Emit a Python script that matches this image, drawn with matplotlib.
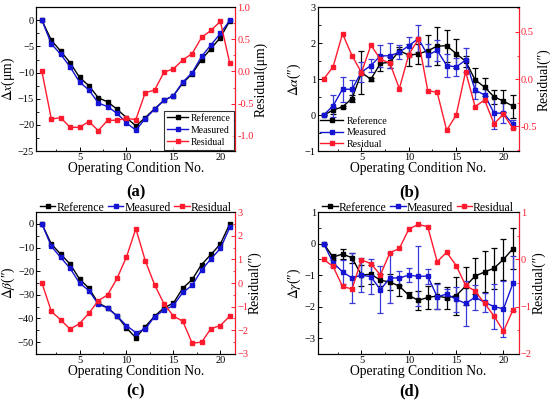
import matplotlib
matplotlib.use("Agg")
import matplotlib.pyplot as plt
from matplotlib.ticker import MultipleLocator, FormatStrFormatter

plt.rcParams['font.family'] = ['Liberation Serif', 'DejaVu Serif']
plt.rcParams['mathtext.fontset'] = 'stix'
plt.rcParams['xtick.direction'] = 'in'
plt.rcParams['ytick.direction'] = 'in'

cond = list(range(1, 22))

# (a) delta x, um
ref_x = [0, -3.8, -5.9, -8.1, -10.9, -12.5, -14.8, -15.6, -17.0, -18.6, -20.2,
         -18.6, -16.9, -15.3, -14.4, -12.0, -10.2, -7.5, -5.4, -3.3, -0.1]
mea_x = [0, -4.5, -6.5, -8.9, -11.8, -13.3, -15.8, -16.5, -17.8, -19.6, -21.0,
         -18.8, -17.0, -15.3, -14.4, -11.8, -10.0, -6.9, -4.7, -2.5, 0.0]
res_x = [0.0, -0.74, -0.72, -0.87, -0.87, -0.78, -0.92, -0.76, -0.76, -0.73, -0.75,
         -0.33, -0.29, -0.01, 0.04, 0.18, 0.28, 0.53, 0.64, 0.78, 0.13]

# (b) delta alpha
ref_a = [0, 0.14, 0.23, 0.46, 1.18, 1.0, 1.44, 1.47, 1.79, 1.67, 1.7,
         1.79, 1.92, 1.93, 1.71, 1.5, 0.98, 0.78, 0.51, 0.39, 0.25]
ref_a_err = [0, 0.1, 0.03, 0.1, 0.6, 0.04, 0.2, 0.16, 0.1, 0.3, 0.28,
             0.43, 0.52, 0.45, 0.4, 0.15, 0.34, 0.26, 0.2, 0.3, 0.32]
mea_a = [0, 0.26, 0.72, 0.72, 1.2, 1.38, 1.65, 1.65, 1.75, 1.93, 2.13,
         1.67, 1.8, 1.38, 1.34, 1.53, 0.7, 0.56, 0.06, 0.05, -0.25]
mea_a_err = [0, 0.3, 0.35, 0.26, 0.27, 0.17, 0.31, 0.35, 0.2, 0.25, 0.37,
             0.3, 0.3, 0.32, 0.24, 0.33, 0.25, 0.18, 0.45, 0.28, 0.12]
res_a = [0.0, 0.13, 0.48, 0.25, 0.07, 0.36, 0.21, 0.17, -0.1, 0.26, 0.42,
         -0.12, -0.14, -0.54, -0.38, 0.08, -0.29, -0.22, -0.47, -0.37, -0.52]

# (c) delta beta
ref_b = [0, -8.5, -12.8, -17.0, -23.3, -27.2, -33.5, -35.5, -39.0, -44.0, -48.2,
         -43.5, -39.0, -35.5, -33.5, -27.2, -23.5, -17.2, -12.9, -8.5, 0.0]
mea_b = [0, -9.5, -14.2, -18.8, -25.0, -28.2, -34.0, -35.6, -39.0, -43.0, -46.0,
         -44.5, -39.2, -36.5, -34.5, -29.0, -26.0, -19.5, -14.8, -10.4, -1.5]
res_b = [0.0, -1.2, -1.56, -1.95, -1.72, -1.28, -0.75, -0.5, 0.2, 1.1, 2.3,
         0.95, -0.08, -0.88, -1.4, -1.62, -2.55, -2.5, -1.93, -1.8, -1.4]

# (d) delta gamma
ref_g = [0, -0.43, -0.33, -0.45, -1.0, -0.97, -1.16, -1.22, -1.35, -1.64, -1.8,
         -1.71, -1.66, -1.72, -1.65, -1.35, -1.03, -0.9, -0.78, -0.5, -0.16]
ref_g_err = [0, 0.1, 0.15, 0.15, 0.33, 0.3, 0.18, 0.25, 0.3, 0.1, 0.3,
             0.35, 0.4, 0.35, 0.6, 0.6, 0.56, 0.65, 0.65, 0.66, 0.64]
mea_g = [0, -0.6, -0.9, -1.09, -1.0, -1.05, -1.46, -1.09, -1.09, -1.0, -1.04,
         -1.03, -1.69, -1.6, -1.77, -1.9, -1.7, -1.86, -2.0, -2.07, -1.26]
mea_g_err = [0, 0.13, 0.37, 0.8, 0.53, 0.55, 0.75, 0.8, 0.22, 0.22, 0.95,
             0.24, 0.4, 0.15, 0.4, 0.72, 0.4, 0.3, 0.72, 0.88, 0.88]
res_g = [0.0, -0.15, -0.57, -0.63, -0.01, -0.09, -0.33, 0.14, 0.23, 0.64, 0.74,
         0.69, -0.05, 0.15, -0.13, -0.55, -0.67, -0.93, -1.2, -1.52, -1.07]

BLACK = '#000000'
BLUE = '#1414d2'
RED = '#ff1a2e'
ms = 3.3
lw = 1.0

fig = plt.figure(figsize=(5.5, 4.04), dpi=100)

pos = {
    'a': [0.066, 0.626, 0.362, 0.356],
    'b': [0.578, 0.626, 0.365, 0.356],
    'c': [0.066, 0.124, 0.362, 0.351],
    'd': [0.578, 0.124, 0.365, 0.351],
}


def panel(key, ref, mea, res, ylab, rlab, ylim, rlim, ymaj, rmaj, ref_err=None, mea_err=None):
    ax = fig.add_axes(pos[key])
    if ref_err is None:
        l1, = ax.plot(cond, ref, color=BLACK, marker='s', ms=ms, lw=lw, label='Reference')
        l2, = ax.plot(cond, mea, color=BLUE, marker='s', ms=ms, lw=lw, label='Measured')
    else:
        ax.errorbar(cond, ref, yerr=ref_err, color=BLACK, marker='s', ms=ms, lw=lw,
                    elinewidth=0.9, capsize=2.5, capthick=0.9)
        ax.errorbar(cond, mea, yerr=mea_err, color=BLUE, marker='s', ms=ms, lw=lw,
                    elinewidth=0.9, capsize=2.5, capthick=0.9, ecolor='#3a3ad8')
        l1, = ax.plot([], [], color=BLACK, marker='s', ms=ms, lw=lw, label='Reference')
        l2, = ax.plot([], [], color=BLUE, marker='s', ms=ms, lw=lw, label='Measured')
    ax.set_xlim(0.4, 21.6)
    ax.set_ylim(*ylim)
    ax.xaxis.set_major_locator(MultipleLocator(5))
    ax.xaxis.set_minor_locator(MultipleLocator(2.5))
    ax.yaxis.set_major_locator(MultipleLocator(ymaj))
    ax.yaxis.set_minor_locator(MultipleLocator(ymaj / 2))
    ax.tick_params(labelsize=7.5, length=3, width=0.7, pad=1.5)
    ax.tick_params(which='minor', length=1.8, width=0.6)
    ax.set_xlabel('Operating Condition No.', fontsize=9.8, labelpad=0)
    ax.set_ylabel(ylab, fontsize=9.8, labelpad=1)

    ax2 = ax.twinx()
    l3, = ax2.plot(cond, res, color=RED, marker='s', ms=ms, lw=lw, label='Residual')
    ax2.set_ylim(*rlim)
    ax2.yaxis.set_major_locator(MultipleLocator(rmaj))
    ax2.yaxis.set_minor_locator(MultipleLocator(rmaj / 2))
    ax2.tick_params(axis='y', colors=RED, labelsize=7.5, length=3, width=0.7, pad=1.5)
    ax2.tick_params(axis='y', which='minor', colors=RED, length=1.8, width=0.6)
    ax2.spines['right'].set_color(RED)
    ax2.set_ylabel(rlab, fontsize=9.8, labelpad=0)
    return ax, ax2, [l1, l2, l3]


top_legend = dict(loc='lower center', bbox_to_anchor=(0.5, 0.99), ncol=3,
                  fontsize=8.5, frameon=False, borderaxespad=0.0, handlelength=1.3,
                  columnspacing=0.3, handletextpad=0.1, borderpad=0.0)

# (a)
ax, ax2, h = panel('a', ref_x, mea_x, res_x, r'$\Delta x$(μm)', 'Residual(μm)',
                   (-25, 2.5), (-1.24, 1.0), 5, 0.5)
ax2.yaxis.set_major_formatter(FormatStrFormatter('%.1f'))
leg = ax2.legend(handles=h, loc='lower right', fontsize=7, borderaxespad=0.15,
                 fancybox=False, edgecolor='black', handlelength=2.2, labelspacing=0.3,
                 borderpad=0.3, handletextpad=0.3)
leg.get_frame().set_linewidth(0.8)

# (b)
ax, ax2, h = panel('b', ref_a, mea_a, res_a, r'$\Delta\alpha$(″)', 'Residual(″)',
                   (-1, 3), (-0.76, 0.76), 1, 0.5, ref_a_err, mea_a_err)
ax2.yaxis.set_major_formatter(FormatStrFormatter('%.1f'))
ax2.legend(handles=h, loc='lower left', fontsize=7.2, frameon=False, borderaxespad=0.0,
           handlelength=2.3, labelspacing=0.25, borderpad=0.25, handletextpad=0.3)

# (c)
ax, ax2, h = panel('c', ref_b, mea_b, res_b, r'$\Delta\beta$(″)', 'Residual(″)',
                   (-55, 5), (-3, 3), 10, 1)
ax2.legend(handles=h, **top_legend)

# (d)
ax, ax2, h = panel('d', ref_g, mea_g, res_g, r'$\Delta\gamma$(″)', 'Residual(″)',
                   (-3.5, 1), (-2, 1), 1, 1, ref_g_err, mea_g_err)
ax2.legend(handles=h, **top_legend)

# panel captions
fig.text(0.247, 0.525, '(a)', ha='center', va='center', fontsize=12, fontweight='bold')
fig.text(0.745, 0.525, '(b)', ha='center', va='center', fontsize=12, fontweight='bold')
fig.text(0.247, 0.03, '(c)', ha='center', va='center', fontsize=12, fontweight='bold')
fig.text(0.745, 0.03, '(d)', ha='center', va='center', fontsize=12, fontweight='bold')

fig.savefig('out.png', dpi=100)
